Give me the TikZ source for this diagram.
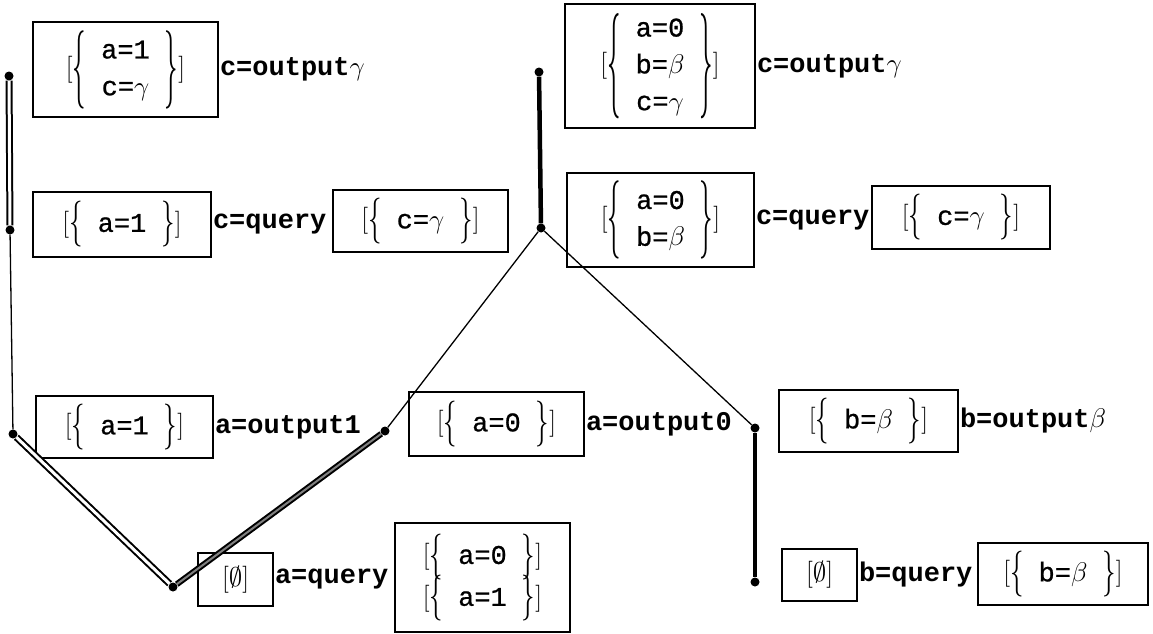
\documentclass[tikz,border=0pt]{standalone}
\usepackage{fix-cm}
\usepackage{graphicx}
\usepackage{fontspec}
\setmonofont{Liberation Mono}
\newfontfamily\envtt[FakeBold=0.8]{Liberation Mono}
\newcommand{\envfont}{\fontsize{27}{32}\selectfont\envtt}
\newcommand{\labfont}{\fontsize{27}{32}\selectfont\ttfamily\bfseries}
\newcommand{\curly}[2]{\vcenter{\hbox{\rmfamily\scalebox{1}[#1]{#2}}}}
\newcommand{\bag}[2][1.7]{$[\curly{#1}{\{}\begin{tabular}{c}#2\end{tabular}\curly{#1}{\}}]$}
\renewcommand{\arraystretch}{1.15}
\setlength{\tabcolsep}{15pt}
\tikzstyle{branch}=[fill,shape=circle,minimum size=9pt,inner sep=0pt]
\tikzstyle{env}=[draw,line width=1.6pt,inner sep=0pt,font=\envfont]
\tikzstyle{lab}=[anchor=west,inner sep=1pt,font=\labfont]
\tikzstyle{wire}=[line width=1.3pt]
\tikzstyle{heavy}=[line width=4.5pt]
\tikzstyle{dbl}=[line width=2pt,double,double distance=3pt]
\tikzstyle{dblgray}=[line width=2pt,double=gray,double distance=2pt]

\begin{document}
\begin{tikzpicture}[x=1pt,y=-1pt]
\useasboundingbox (0,0) rectangle (1153,634);
\node[branch] at (9,76) (L1) {};
\node[branch] at (10,230) (L2) {};
\node[branch] at (13,434) (L3) {};
\node[branch] at (173,587) (L4) {};
\node[branch] at (385,431) (L5) {};
\node[branch] at (539,72) (R1) {};
\node[branch] at (541,228) (R2) {};
\node[branch] at (755,428) (R3) {};
\node[branch] at (755,582) (R4) {};
\node[env, minimum width=185pt, minimum height=95pt] at (125.5,69.5) (Env1) {\bag[2.9]{a=1\\c=$\gamma$}};
\node[env, minimum width=178pt, minimum height=65pt] at (122,224.5) (Env2) {\bag{a=1}};
\node[env, minimum width=175pt, minimum height=62pt] at (420.5,221) (Env3) {\bag{c=$\gamma$}};
\node[env, minimum width=177pt, minimum height=62pt] at (124.5,427) (Env4) {\bag{a=1}};
\node[env, minimum width=75pt, minimum height=53pt] at (235.5,579.5) (Env5) {$[\emptyset]$};
\node[env, minimum width=175pt, minimum height=109pt] at (482.5,577.5) (Env6) {\begin{tabular}{@{}c@{}}\bag{a=0}\\[-4pt]\bag{a=1}\end{tabular}};
\node[env, minimum width=190pt, minimum height=124pt] at (660,66) (Env7) {\bag[3.9]{a=0\\b=$\beta$\\c=$\gamma$}};
\node[env, minimum width=187pt, minimum height=94pt] at (660.5,220) (Env8) {\bag[2.9]{a=0\\b=$\beta$}};
\node[env, minimum width=178pt, minimum height=63pt] at (961,217.5) (Env9) {\bag{c=$\gamma$}};
\node[env, minimum width=175pt, minimum height=64pt] at (496.5,424) (Env10) {\bag{a=0}};
\node[env, minimum width=179pt, minimum height=62pt] at (868.5,421) (Env11) {\bag{b=$\beta$}};
\node[env, minimum width=75pt, minimum height=52pt] at (819.5,575) (Env12) {$[\emptyset]$};
\node[env, minimum width=170pt, minimum height=62pt] at (1063,574) (Env13) {\bag{b=$\beta$}};
\node[lab] at (Env1.east) (Lab1) {c=output$\gamma$};
\node[lab] at (Env2.east) (Lab2) {c=query};
\node[lab] at (Env4.east) (Lab3) {a=output1};
\node[lab] at (Env5.east) (Lab4) {a=query};
\node[lab] at (Env7.east) (Lab5) {c=output$\gamma$};
\node[lab] at (Env8.east) (Lab6) {c=query};
\node[lab] at (Env10.east) (Lab7) {a=output0};
\node[lab] at (Env11.east) (Lab8) {b=output$\beta$};
\node[lab] at (Env12.east) (Lab9) {b=query};
\draw[dbl] (L1) -- (L2);
\draw[wire] (L2) -- (L3);
\draw[dbl] (L3) -- (L4);
\draw[dblgray] (L4) -- (L5);
\draw[heavy] (R1) -- (R2);
\draw[wire] (R2) -- (L5);
\draw[wire] (R2) -- (R3);
\draw[heavy] (R3) -- (R4);
\end{tikzpicture}
\end{document}
